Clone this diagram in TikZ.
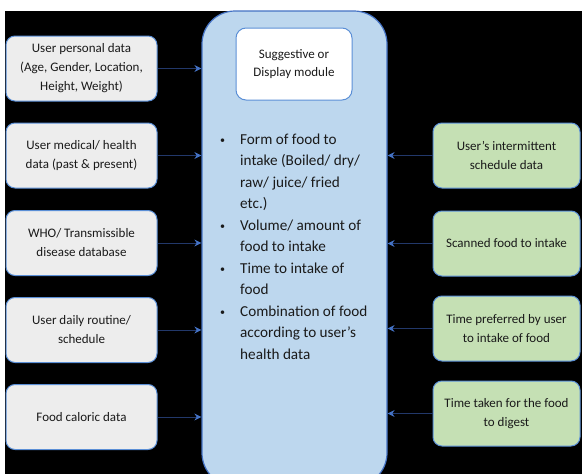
\documentclass[tikz,border=0pt]{standalone}
\usepackage{fontspec}
\setmainfont{Carlito}
\usetikzlibrary{arrows.meta}
\definecolor{bordblue}{HTML}{5B8FD6}
\definecolor{tipblue}{HTML}{4472C4}
\definecolor{linenavy}{HTML}{22386A}
\definecolor{grayfill}{HTML}{EDEDED}
\definecolor{bluefill}{HTML}{BDD7EE}
\definecolor{greenfill}{HTML}{C5E0B4}
\definecolor{txt}{HTML}{1A1A1A}
\newcommand{\smbul}{\hspace{6pt}{\fontsize{10}{10}\selectfont\raisebox{0.5pt}{\textbullet}}}
\tikzset{
  lbox/.style={draw=bordblue, line width=1pt, fill=grayfill, rounded corners=9pt,
    minimum width=151pt, minimum height=65pt, align=center, text=txt,
    font=\fontsize{13}{19}\selectfont, inner sep=2pt},
  rbox/.style={lbox, fill=greenfill, minimum width=147pt},
  arr/.style={draw=linenavy, line width=0.9pt,
    -{Stealth[length=7pt,width=7pt,color=tipblue]}}
}
\begin{document}
\begin{tikzpicture}[x=1pt,y=-1pt]
\path[use as bounding box, clip] (0,0) rectangle (582,474);
\fill[white] (0,0) rectangle (582,474);
\fill[black] (5,11) rectangle (582,474);
% central module
\node[draw=tipblue, line width=1.2pt, fill=bluefill, rounded corners=33pt,
  minimum width=185pt, minimum height=475pt, inner sep=0pt] (mod) at (294.5,248.5) {};
\node[draw=bordblue, line width=1pt, fill=white, rounded corners=10pt,
  minimum width=116pt, minimum height=72pt, align=center, text=txt,
  font=\fontsize{13}{18}\selectfont] (sug) at (294,64) {Suggestive or\\Display module};
\node[anchor=north west, inner sep=0pt, text=txt, font=\fontsize{15.2}{21.5}\selectfont] (list) at (214,129)
{\begin{tabular}{@{}p{26pt}@{}l@{}}
\smbul & Form of food to\\
 & intake (Boiled/ dry/\\
 & raw/ juice/ fried\\
 & etc.)\\
\smbul & Volume/ amount of\\
 & food to intake\\
\smbul & Time to intake of\\
 & food\\
\smbul & Combination of food\\
 & according to user’s\\
 & health data
\end{tabular}};
% left boxes
\node[lbox] (l1) at (81.5,68.5) {User personal data\\(Age, Gender, Location,\\Height, Weight)};
\node[lbox] (l2) at (81.5,155.5) {User medical/ health\\data (past \& present)};
\node[lbox] (l3) at (81.5,243) {WHO/ Transmissible\\disease database};
\node[lbox] (l4) at (81.5,330) {User daily routine/\\schedule};
\node[lbox] (l5) at (81.5,417) {Food caloric data};
% right boxes
\node[rbox] (r1) at (506.5,155.5) {User’s intermittent\\schedule data};
\node[rbox] (r2) at (506.5,243.5) {Scanned food to intake};
\node[rbox] (r3) at (506.5,328.5) {Time preferred by user\\to intake of food};
\node[rbox] (r4) at (506.5,413.5) {Time taken for the food\\to digest};
% arrows
\foreach \n in {l1,l2,l3,l4,l5}{
  \draw[arr] (\n.east) -- (\n.east -| mod.west);
}
\foreach \n in {r1,r2,r3,r4}{
  \draw[arr] (\n.west) -- (\n.west -| mod.east);
}
\end{tikzpicture}
\end{document}
